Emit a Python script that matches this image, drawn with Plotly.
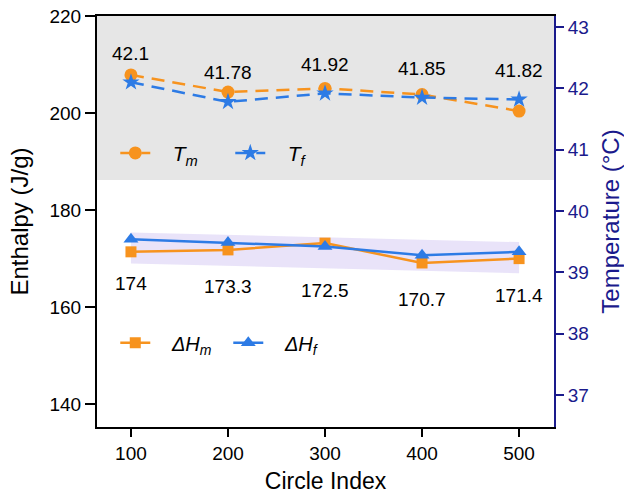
import plotly.graph_objects as go

cycles = [100, 200, 300, 400, 500]
T_m = [42.22, 41.94, 42.00, 41.90, 41.63]
T_f = [42.10, 41.78, 41.92, 41.85, 41.82]
T_f_labels = ["42.1", "41.78", "41.92", "41.85", "41.82"]
dH_m = [171.4, 171.8, 173.2, 169.1, 170.0]
dH_f = [174.0, 173.3, 172.5, 170.7, 171.4]
dH_f_labels = ["174", "173.3", "172.5", "170.7", "171.4"]
band_upper = [175.4, 174.9, 174.4, 173.9, 173.4]
band_lower = [169.0, 168.5, 168.0, 167.5, 167.0]
gray_bottom = 186.2

ORANGE = "#F7931E"
BLUE = "#2D7BE5"
NAVY = "#1a1a8c"
FONT = "Liberation Sans, Arial, sans-serif"
SP = "&nbsp;&nbsp;&nbsp;"

fig = go.Figure()

# lavender band
fig.add_trace(go.Scatter(x=cycles, y=band_upper, mode="lines", line=dict(width=0),
                         showlegend=False, hoverinfo="skip", yaxis="y"))
fig.add_trace(go.Scatter(x=cycles, y=band_lower, mode="lines", line=dict(width=0),
                         fill="tonexty", fillcolor="rgba(200,185,240,0.4)",
                         showlegend=False, hoverinfo="skip", yaxis="y"))

fig.add_trace(go.Scatter(x=cycles, y=dH_m, mode="lines+markers", name=SP + "<i>ΔH</i><sub><i>m</i></sub>",
                         line=dict(color=ORANGE, width=2.5),
                         marker=dict(symbol="square", size=11, color=ORANGE),
                         yaxis="y", legend="legend2"))
fig.add_trace(go.Scatter(x=cycles, y=dH_f, mode="lines+markers", name=SP + "<i>ΔH</i><sub><i>f</i></sub>",
                         line=dict(color=BLUE, width=2.5),
                         marker=dict(symbol="triangle-up", size=13, color=BLUE),
                         yaxis="y", legend="legend2"))

fig.add_trace(go.Scatter(x=cycles, y=T_m, mode="lines+markers", name=SP + "<i>T</i><sub><i>m</i></sub>",
                         line=dict(color=ORANGE, width=2.5, dash="13px,8px"),
                         marker=dict(symbol="circle", size=13, color=ORANGE),
                         yaxis="y2", legend="legend"))
fig.add_trace(go.Scatter(x=cycles, y=T_f, mode="lines+markers", name=SP + "<i>T</i><sub><i>f</i></sub>",
                         line=dict(color=BLUE, width=2.5, dash="13px,8px"),
                         marker=dict(symbol="star", size=13, color=BLUE),
                         yaxis="y2", legend="legend"))

annotations = []
for x, y, t in zip(cycles, T_f, T_f_labels):
    annotations.append(dict(x=x, y=y, xref="x", yref="y2", text=t, showarrow=False,
                            yshift=29, font=dict(size=19, color="black", family=FONT)))
for x, y, t in zip(cycles, dH_f, dH_f_labels):
    annotations.append(dict(x=x, y=y, xref="x", yref="y", text=t, showarrow=False,
                            yshift=-44, font=dict(size=19, color="black", family=FONT)))

fig.update_layout(
    width=624, height=502,
    margin=dict(l=97, r=70, t=16, b=75, autoexpand=False),
    paper_bgcolor="white", plot_bgcolor="white",
    font=dict(family=FONT, size=19, color="black"),
    shapes=[dict(type="rect", xref="paper", yref="y", x0=0, x1=1, y0=gray_bottom, y1=220,
                 fillcolor="#e6e6e6", line=dict(width=0), layer="below")],
    annotations=annotations,
    xaxis=dict(range=[65, 536], tickvals=cycles, ticks="outside", ticklen=8, tickwidth=1.5,
               tickcolor="black", showline=True, linecolor="black", linewidth=2, mirror=True,
               showgrid=False, zeroline=False, automargin=False,
               title=dict(text="Circle Index", font=dict(size=23), standoff=10),
               tickfont=dict(size=19)),
    yaxis=dict(range=[135.3, 220], tickvals=[140, 160, 180, 200, 220], ticks="outside",
               ticklen=10, tickwidth=1.5, tickcolor="black", showline=True, linecolor="black",
               linewidth=2, showgrid=False, zeroline=False, automargin=False,
               title=dict(text="Enthalpy (J/g)", font=dict(size=24), standoff=14),
               tickfont=dict(size=19)),
    yaxis2=dict(range=[36.48, 43.18], tickvals=[37, 38, 39, 40, 41, 42, 43], overlaying="y",
                side="right", ticks="outside", ticklen=8, tickwidth=1.5, tickcolor=NAVY,
                showline=True, linecolor=NAVY, linewidth=2, showgrid=False, zeroline=False,
                automargin=False,
                title=dict(text="Temperature (°C)", font=dict(size=24, color=NAVY), standoff=14),
                tickfont=dict(size=19, color=NAVY)),
    legend=dict(x=0.04, y=0.666, xanchor="left", yanchor="middle", orientation="h",
                traceorder="normal",
                bgcolor="rgba(0,0,0,0)", font=dict(size=21), entrywidth=70,
                entrywidthmode="pixels"),
    legend2=dict(x=0.04, y=0.205, xanchor="left", yanchor="middle", orientation="h",
                 traceorder="normal",
                 bgcolor="rgba(0,0,0,0)", font=dict(size=20), entrywidth=68,
                 entrywidthmode="pixels"),
)

fig.write_html("out.html")
